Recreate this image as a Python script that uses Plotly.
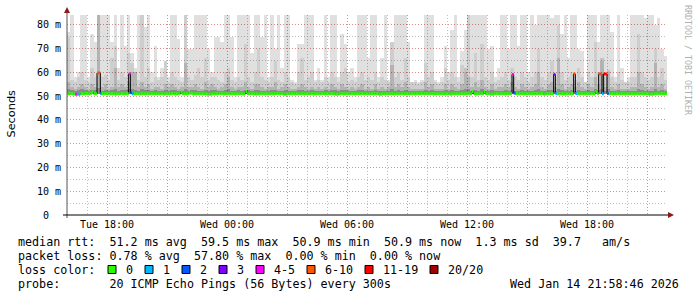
import plotly.graph_objects as go
from datetime import datetime, timedelta

# ---------------- data ----------------
START = datetime(2026, 1, 13, 16, 0)
END = datetime(2026, 1, 14, 22, 0)
SMOKE_STEP_MIN = 10
MEDIAN_STEP_MIN = 5
SMOKE_FLOOR = 51.0  # ms

# upper edge of smoke layers (ms), one value per 10 minutes
smoke_light = [
    77, 90, 58, 60, 90, 90, 58, 76, 73, 90,
    90, 90, 90, 73, 90, 62, 90, 71, 90, 68,
    62, 90, 90, 79, 90, 60, 71, 58, 62, 65,
    58, 90, 90, 74, 58, 90, 70, 70, 90, 90,
    90, 90, 70, 60, 75, 75, 73, 90, 90, 75,
    58, 90, 90, 90, 90, 68, 90, 90, 75, 90,
    58, 90, 70, 90, 62, 90, 90, 57, 56, 72,
    72, 90, 90, 90, 57, 62, 57, 90, 58, 90,
    90, 58, 76, 72, 60, 62, 58, 90, 90, 90,
    66, 90, 90, 58, 66, 90, 57, 73, 90, 90,
    90, 89, 73, 56, 57, 56, 57, 90, 90, 84,
    57, 56, 58, 71, 60, 78, 90, 58, 69, 78,
    90, 90, 90, 90, 90, 90, 70, 71, 58, 62,
    90, 90, 70, 90, 90, 71, 90, 90, 60, 90,
    80, 90, 90, 90, 90, 83, 90, 90, 76, 90,
    66, 90, 90, 70, 69, 56, 90, 90, 90, 73,
    90, 90, 90, 77, 58, 90, 62, 56, 58, 90,
    90, 90, 90, 83, 90, 90, 80, 83, 70, 67,
]
smoke_mid = [
    75, 57, 56, 58, 60, 57, 56, 62, 58, 90,
    58, 59, 57, 66, 71, 57, 60, 58, 68, 64,
    60, 57, 90, 58, 62, 56, 58, 57, 58, 65,
    56, 60, 58, 57, 56, 90, 58, 57, 59, 62,
    58, 66, 57, 58, 58, 57, 56, 60, 62, 57,
    56, 58, 57, 72, 58, 56, 60, 70, 58, 57,
    56, 58, 65, 57, 56, 60, 58, 56, 55, 60,
    66, 57, 58, 60, 56, 57, 56, 58, 56, 60,
    58, 56, 60, 62, 56, 57, 56, 58, 60, 57,
    58, 57, 60, 56, 58, 57, 56, 73, 58, 60,
    57, 66, 58, 56, 56, 55, 56, 64, 58, 60,
    56, 55, 56, 62, 57, 60, 58, 56, 63, 60,
    90, 58, 68, 57, 72, 58, 57, 60, 56, 57,
    58, 60, 57, 62, 58, 57, 60, 58, 56, 58,
    60, 70, 58, 57, 60, 65, 58, 80, 60, 57,
    58, 60, 57, 62, 58, 56, 60, 58, 73, 60,
    65, 58, 60, 58, 56, 60, 57, 56, 56, 58,
    58, 76, 60, 58, 57, 58, 70, 58, 62, 57,
]
smoke_dark = [
    56, 54, 53, 54, 55, 54, 53, 55, 54, 90,
    54, 55, 53, 54, 62, 54, 55, 54, 56, 60,
    60, 54, 56, 54, 55, 53, 54, 54, 53, 55,
    54, 55, 54, 53, 54, 64, 54, 54, 55, 54,
    53, 56, 54, 55, 54, 53, 54, 55, 58, 54,
    53, 54, 54, 56, 54, 53, 55, 55, 54, 53,
    54, 54, 56, 53, 54, 55, 54, 53, 53, 54,
    55, 54, 53, 54, 53, 54, 53, 54, 53, 55,
    54, 53, 55, 54, 53, 54, 53, 54, 55, 53,
    54, 53, 55, 53, 54, 53, 54, 63, 54, 55,
    54, 56, 54, 53, 53, 53, 53, 56, 54, 55,
    53, 53, 53, 55, 53, 55, 54, 53, 55, 62,
    58, 54, 56, 54, 57, 54, 53, 55, 53, 54,
    54, 55, 54, 56, 54, 53, 55, 54, 53, 54,
    55, 60, 54, 53, 55, 56, 54, 66, 55, 53,
    54, 55, 54, 56, 54, 53, 55, 54, 58, 55,
    66, 54, 61, 54, 53, 55, 53, 53, 53, 54,
    54, 60, 55, 54, 53, 54, 64, 54, 55, 53,
]
smoke_core = [
    53.0, 52.5, 52.3, 52.6, 53.0, 52.5, 52.2, 52.8, 52.6, 53.5,
    52.4, 52.8, 52.3, 52.6, 53.2, 52.4, 52.7, 52.5, 53.0, 53.0,
    52.8, 52.4, 53.0, 52.5, 52.7, 52.2, 52.5, 52.4, 52.3, 52.7,
    52.4, 52.6, 52.5, 52.3, 52.4, 53.2, 52.4, 52.5, 52.6, 52.4,
    52.3, 52.8, 52.4, 52.6, 52.5, 52.3, 52.4, 52.6, 52.9, 52.4,
    52.3, 52.5, 52.4, 52.8, 52.5, 52.3, 52.6, 52.6, 52.4, 52.3,
    52.4, 52.5, 52.8, 52.3, 52.4, 52.6, 52.4, 52.2, 52.2, 52.5,
    52.6, 52.4, 52.3, 52.5, 52.2, 52.4, 52.2, 52.5, 52.3, 52.6,
    52.5, 52.3, 52.6, 52.5, 52.2, 52.4, 52.2, 52.5, 52.6, 52.3,
    52.4, 52.3, 52.6, 52.2, 52.4, 52.3, 52.4, 53.0, 52.4, 52.6,
    52.4, 52.8, 52.4, 52.2, 52.2, 52.1, 52.2, 52.8, 52.4, 52.6,
    52.2, 52.1, 52.2, 52.6, 52.2, 52.6, 52.4, 52.2, 52.6, 53.0,
    52.9, 52.4, 52.8, 52.4, 52.9, 52.4, 52.3, 52.6, 52.2, 52.4,
    52.4, 52.6, 52.4, 52.8, 52.4, 52.3, 52.6, 52.4, 52.2, 52.4,
    52.6, 53.0, 52.4, 52.3, 52.6, 52.8, 52.4, 53.2, 52.6, 52.3,
    52.4, 52.6, 52.4, 52.8, 52.4, 52.2, 52.6, 52.4, 52.9, 52.6,
    53.2, 52.4, 53.0, 52.4, 52.3, 52.6, 52.2, 52.2, 52.2, 52.4,
    52.4, 53.0, 52.6, 52.4, 52.3, 52.4, 53.1, 52.4, 52.6, 52.3,
]

# median RTT (ms), one value per 5-minute probe
median_ms = [
    51.0, 51.0, 51.1, 51.0, 50.9, 50.8, 50.8, 50.8, 51.0, 51.0, 51.0, 51.1, 51.0, 51.0, 51.2, 51.8, 51.0, 51.0, 59.8, 59.8,
    51.0, 51.0, 51.0, 51.1, 51.0, 51.0, 51.0, 51.0, 51.0, 50.9, 51.0, 51.0, 51.1, 51.0, 51.0, 51.0, 51.0, 59.4, 51.5, 51.0,
    51.0, 51.0, 51.0, 51.0, 50.9, 51.0, 51.0, 51.0, 51.0, 51.0, 51.0, 51.0, 51.1, 51.0, 51.0, 51.0, 51.0, 51.0, 50.9, 51.0,
    51.0, 51.0, 51.0, 51.2, 51.0, 51.0, 51.0, 51.0, 51.8, 51.0, 51.0, 51.0, 51.0, 51.3, 51.3, 51.0, 51.0, 51.0, 51.0, 51.0,
    51.0, 51.0, 51.0, 51.0, 50.8, 50.8, 50.8, 51.0, 51.0, 51.0, 51.0, 51.2, 51.0, 51.0, 51.0, 51.0, 51.0, 51.0, 51.0, 51.0,
    51.0, 51.0, 51.0, 51.0, 51.0, 51.0, 51.0, 52.0, 51.0, 51.0, 51.0, 51.0, 51.0, 50.9, 50.9, 51.0, 51.0, 51.0, 51.0, 51.0,
    51.0, 51.0, 51.0, 51.0, 51.0, 51.2, 51.2, 51.0, 51.0, 51.0, 50.8, 50.8, 51.0, 51.0, 51.0, 51.0, 51.0, 51.0, 51.0, 51.0,
    51.0, 51.0, 51.0, 51.0, 51.0, 51.0, 51.0, 51.0, 51.0, 51.0, 51.0, 51.0, 51.0, 51.2, 51.0, 51.0, 51.0, 51.0, 51.0, 51.0,
    51.0, 50.8, 50.8, 51.0, 51.0, 51.0, 51.0, 51.0, 51.0, 51.0, 51.0, 51.0, 51.0, 51.0, 51.0, 51.0, 51.0, 51.1, 51.0, 51.0,
    51.0, 51.0, 51.0, 51.0, 51.0, 51.0, 51.0, 50.8, 50.8, 51.0, 51.0, 51.0, 51.0, 51.0, 51.0, 51.0, 51.0, 51.0, 51.0, 51.0,
    51.0, 51.0, 51.0, 51.0, 51.0, 51.0, 51.0, 51.0, 51.0, 51.0, 51.0, 51.0, 51.0, 51.2, 51.0, 51.0, 51.0, 51.0, 51.0, 51.0,
    51.0, 51.0, 51.0, 51.0, 51.0, 51.0, 51.0, 51.0, 51.0, 51.0, 50.8, 51.0, 51.0, 51.0, 51.0, 51.0, 51.0, 51.0, 51.0, 51.0,
    51.0, 51.0, 51.0, 52.0, 51.0, 51.0, 51.0, 51.0, 51.0, 51.0, 51.8, 51.0, 51.0, 51.0, 50.8, 50.8, 51.0, 51.0, 51.0, 51.0,
    51.0, 51.0, 51.0, 51.0, 51.0, 51.0, 51.0, 59.2, 51.3, 51.0, 51.0, 51.0, 51.0, 51.0, 51.0, 51.0, 51.0, 51.0, 51.0, 51.0,
    51.0, 51.0, 51.0, 51.0, 51.0, 51.2, 50.8, 51.0, 51.0, 51.0, 51.0, 51.0, 59.2, 51.2, 51.0, 51.0, 51.0, 51.0, 51.0, 51.0,
    51.0, 51.0, 50.9, 51.0, 59.4, 51.2, 51.0, 51.0, 51.0, 51.0, 51.0, 51.0, 51.0, 51.0, 51.0, 51.0, 51.0, 51.8, 51.0, 59.4,
    59.4, 51.0, 59.4, 59.4, 51.2, 51.0, 51.0, 51.0, 51.0, 51.0, 51.0, 51.0, 51.0, 51.0, 51.0, 51.0, 51.0, 51.0, 51.0, 51.0,
    51.0, 51.0, 51.0, 51.0, 51.0, 51.0, 51.0, 51.0, 51.0, 50.8, 50.8, 50.8, 51.0, 51.0, 51.0, 51.0, 51.0, 51.0, 51.0, 51.0,
]

# (probe index, loss class) for probes that saw packet loss; all others are class 0
loss_events = [
    (5, 4), (6, 1), (7, 1), (18, 5), (19, 5), (20, 1), (37, 4), (38, 2), (39, 1),
    (267, 4), (268, 2), (292, 3), (293, 1), (304, 5), (305, 1),
    (319, 5), (320, 5), (321, 1), (322, 6), (323, 6), (324, 2),
]
loss_labels = ["0", "1", "2", "3", "4-5", "6-10", "11-19", "20/20"]
loss_colors = ["#26ff00", "#00b8ff", "#0059ff", "#7e00ff", "#ff00ff", "#ff5500", "#ff0000", "#a10000"]

y_tick_vals = [0, 10, 20, 30, 40, 50, 60, 70, 80]
y_tick_text = ["0\u00a0\u00a0", "10 m", "20 m", "30 m", "40 m", "50 m", "60 m", "70 m", "80 m"]
x_tick_times = [datetime(2026, 1, 13, 18), datetime(2026, 1, 13, 21), datetime(2026, 1, 14, 0),
                datetime(2026, 1, 14, 3), datetime(2026, 1, 14, 6), datetime(2026, 1, 14, 9),
                datetime(2026, 1, 14, 12), datetime(2026, 1, 14, 15), datetime(2026, 1, 14, 18),
                datetime(2026, 1, 14, 21)]
x_tick_text = ["Tue 18:00", "", "Wed 00:00", "", "Wed 06:00", "", "Wed 12:00", "", "Wed 18:00", ""]

stat_lines = [
    "median rtt:  51.2 ms avg  59.5 ms max  50.9 ms min  50.9 ms now  1.3 ms sd  39.7   am/s",
    "packet loss: 0.78 % avg  57.80 % max  0.00 % min  0.00 % now",
    "loss color:",
    "probe:       20 ICMP Echo Pings (56 Bytes) every 300s",
]
stamp_text = "Wed Jan 14 21:58:46 2026"
y_title = "Seconds"
watermark = "RRDTOOL / TOBI OETIKER"

# ---------------- geometry helpers (pixel -> paper) ----------------
W, H = 697, 297
L, R, T, B = 67, 30, 15, 82
PW, PH = W - L - R, H - T - B


def px(x):
    return (x - L) / PW


def py(y):
    return (H - B - y) / PH


MONO = "DejaVu Sans Mono"

# ---------------- traces ----------------
fig = go.Figure()
smoke_t = [START + timedelta(minutes=SMOKE_STEP_MIN * k) for k in range(len(smoke_light))]
bar_w = SMOKE_STEP_MIN * 60 * 1000
for vals, col in [(smoke_light, "rgba(0,0,0,0.12)"), (smoke_mid, "rgba(0,0,0,0.08)"),
                  (smoke_dark, "rgba(0,0,0,0.13)"), (smoke_core, "rgba(0,0,0,0.22)")]:
    fig.add_trace(go.Bar(
        x=smoke_t, y=[v - SMOKE_FLOOR for v in vals], base=SMOKE_FLOOR,
        width=bar_w, offset=0, marker=dict(color=col, line=dict(width=0)),
        hoverinfo="skip", showlegend=False))

med_t = [START + timedelta(minutes=MEDIAN_STEP_MIN * j) for j in range(len(median_ms))]
fig.add_trace(go.Scatter(
    x=med_t + [END], y=median_ms + [median_ms[-1]], mode="lines",
    line=dict(color="black", width=1, shape="hv"), hoverinfo="skip", showlegend=False))

loss_class = [0] * len(median_ms)
for j, c in loss_events:
    loss_class[j] = c
step = timedelta(minutes=MEDIAN_STEP_MIN)
for c, col in enumerate(loss_colors):
    xs, ys = [], []
    for j, m in enumerate(median_ms):
        if loss_class[j] == c:
            xs += [med_t[j], med_t[j] + step, None]
            ys += [m, m, None]
    if xs:
        fig.add_trace(go.Scatter(x=xs, y=ys, mode="lines", line=dict(color=col, width=3),
                                 hoverinfo="skip", showlegend=False))

# ---------------- layout ----------------
RED_GRID = "rgba(235,120,120,0.75)"
GRAY_GRID = "rgba(170,170,170,0.75)"
DASH = "1px,2px"

shapes = [
    dict(type="line", xref="paper", yref="paper", x0=px(67), x1=px(67), y0=py(218), y1=py(11),
         line=dict(color="#555555", width=1)),
    dict(type="line", xref="paper", yref="paper", x0=px(63), x1=px(669), y0=py(215), y1=py(215),
         line=dict(color="black", width=1)),
    dict(type="path", xref="paper", yref="paper",
         path=f"M {px(64)},{py(13)} L {px(70)},{py(13)} L {px(67)},{py(7)} Z",
         fillcolor="#8b1a1a", line=dict(width=0)),
    dict(type="path", xref="paper", yref="paper",
         path=f"M {px(668)},{py(212)} L {px(668)},{py(218)} L {px(674)},{py(215)} Z",
         fillcolor="#8b1a1a", line=dict(width=0)),
]

line_y = [241.7, 255.5, 269.5, 283.5]
annotations = []
for text, yy in zip(stat_lines, line_y):
    annotations.append(dict(text=text.replace(" ", "\u00a0"), xref="paper", yref="paper",
                            x=px(16), y=py(yy), xanchor="left", yanchor="middle", showarrow=False,
                            font=dict(family=MONO, size=11.7, color="black")))
annotations.append(dict(text=stamp_text.replace(" ", "\u00a0"), xref="paper", yref="paper",
                        x=px(681), y=py(line_y[3]), xanchor="right", yanchor="middle", showarrow=False,
                        font=dict(family=MONO, size=11.7, color="black")))

# loss colour legend
CHAR_W = 7.0
lab_x = 123.6
for lab, col in zip(loss_labels, loss_colors):
    bx = lab_x - 15.6
    shapes.append(dict(type="rect", xref="paper", yref="paper", x0=px(bx), x1=px(bx + 8),
                       y0=py(273.5), y1=py(265.5), fillcolor=col, line=dict(color="black", width=1)))
    annotations.append(dict(text=lab, xref="paper", yref="paper", x=px(lab_x), y=py(line_y[2]),
                            xanchor="left", yanchor="middle", showarrow=False,
                            font=dict(family=MONO, size=11.7, color="black")))
    lab_x += CHAR_W * len(lab) + 30

annotations.append(dict(text=y_title, xref="paper", yref="paper", x=px(11), y=py(113.5),
                        xanchor="center", yanchor="middle", textangle=-90, showarrow=False,
                        font=dict(family="DejaVu Sans", size=11.3, color="black")))
annotations.append(dict(text=watermark, xref="paper", yref="paper", x=px(688), y=py(60),
                        xanchor="center", yanchor="middle", textangle=90, showarrow=False,
                        font=dict(family=MONO, size=8.3, color="#b0b0b0")))

fig.update_layout(
    width=W, height=H, autosize=False,
    margin=dict(l=L, r=R, t=T, b=B, pad=0),
    paper_bgcolor="white", plot_bgcolor="white",
    barmode="overlay", bargap=0, showlegend=False,
    shapes=shapes, annotations=annotations,
    xaxis=dict(
        type="date", range=[START, END], tickmode="array", tickvals=x_tick_times, ticktext=x_tick_text,
        showgrid=True, gridcolor=RED_GRID, griddash=DASH, gridwidth=1,
        minor=dict(dtick=3600000, tick0=START, showgrid=True, gridcolor=GRAY_GRID, griddash=DASH, gridwidth=1),
        ticks="", showline=False, zeroline=False, ticklabelstandoff=2,
        tickfont=dict(family=MONO, size=10, color="black"), fixedrange=True),
    yaxis=dict(
        range=[0, 84.2], tickmode="array", tickvals=y_tick_vals, ticktext=y_tick_text,
        showgrid=True, gridcolor=RED_GRID, griddash=DASH, gridwidth=1,
        minor=dict(dtick=5, tick0=0, showgrid=True, gridcolor=GRAY_GRID, griddash=DASH, gridwidth=1),
        ticks="", showline=False, zeroline=False, ticklabelstandoff=5,
        tickfont=dict(family=MONO, size=10, color="black"), fixedrange=True),
)

fig.write_html("out.html")
